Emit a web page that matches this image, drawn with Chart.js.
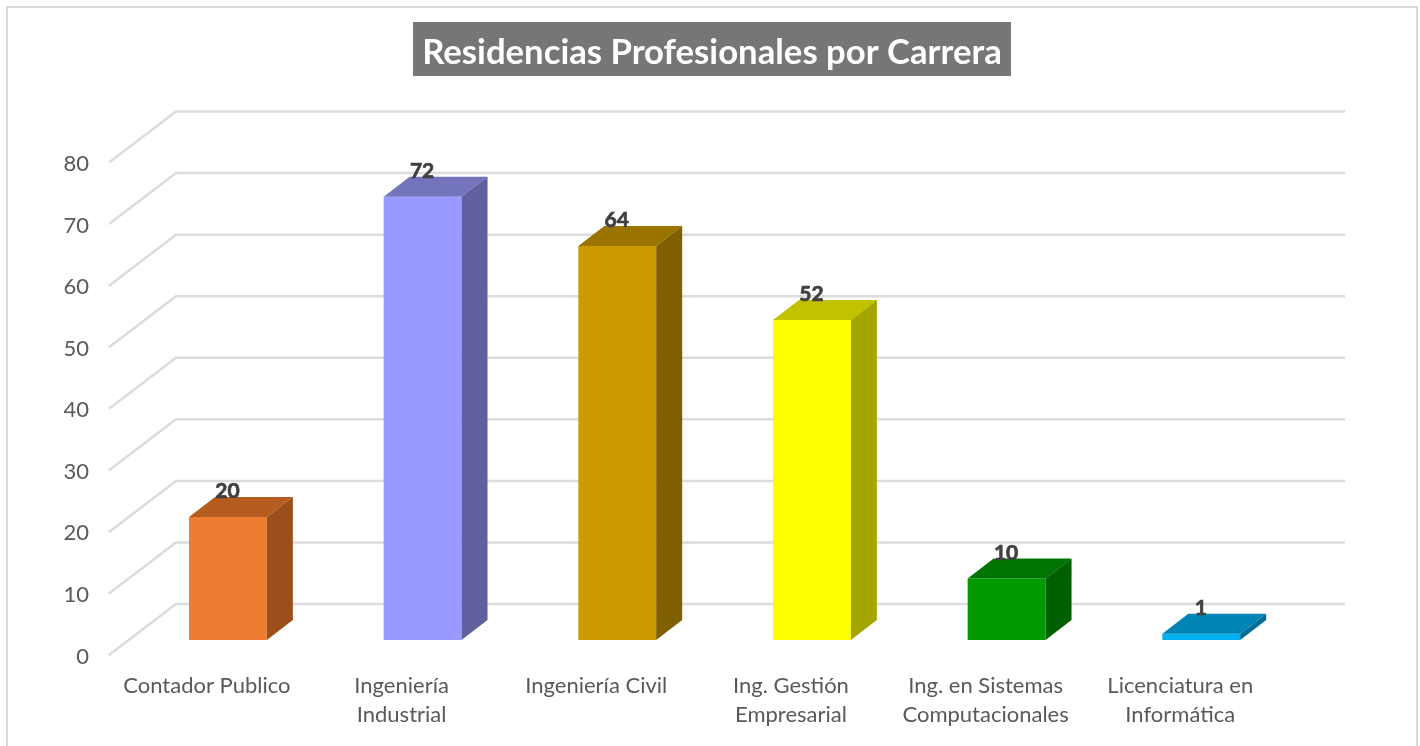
<!DOCTYPE html>
<html><head><meta charset="utf-8">
<style>html,body{margin:0;padding:0;background:#fff}#w{width:1420px;height:746px;position:relative;overflow:hidden}</style>
<script src="https://cdn.jsdelivr.net/npm/chart.js@4"></script>
</head><body><div id="w"><canvas id="c" width="1420" height="746"></canvas></div>
<script>
const titleText = 'Residencias Profesionales por Carrera';
const categories = ['Contador Publico',['Ingeniería','Industrial'],'Ingeniería Civil',['Ing. Gestión','Empresarial'],['Ing. en Sistemas','Computacionales'],['Licenciatura en','Informática']];
const values = [20,72,64,52,10,1];
const yTicks = [0,10,20,30,40,50,60,70,80];
const frontColors = ['#ed7d31','#9999ff','#cc9900','#ffff00','#009900','#00b0f0'];
const topColors = ['#b55c20','#7474bd','#9b7400','#c2c200','#007400','#0084b5'];
const sideColors = ['#9a4f1c','#60609f','#806000','#a5a500','#006000','#006d98'];
const FONT = 'Lato, Carlito, sans-serif';
const depth = {x:26, y:-20};

const scene = {
  id:'scene',
  afterLayout(chart){ const t=chart.titleBlock; if(t){t.left=4;t.right=1420;} },
  beforeDraw(chart){
    const c=chart.ctx; c.save();
    c.fillStyle='#fff'; c.fillRect(0,0,1420,746);
    c.strokeStyle='#d9d9d9'; c.lineWidth=2;
    c.beginPath(); c.moveTo(7,750); c.lineTo(7,7); c.lineTo(1417,7); c.lineTo(1417,750); c.stroke();
    c.fillStyle='#767676'; c.fillRect(413,22,598,54);
    c.restore();
  },
  beforeDatasetsDraw(chart){
    const c=chart.ctx, y=chart.scales.y; c.save();
    c.strokeStyle='#dcdcdc'; c.lineWidth=2.5;
    yTicks.forEach(v=>{
      const p=y.getPixelForValue(v);
      c.beginPath(); c.moveTo(109,p+15); c.lineTo(176,p-36); c.lineTo(1345,p-36); c.stroke();
    });
    c.restore();
  },
  afterDatasetsDraw(chart){
    const c=chart.ctx, meta=chart.getDatasetMeta(0); c.save();
    meta.data.forEach((b,i)=>{
      const l=b.x-b.width/2, r=b.x+b.width/2, t=b.y, bt=b.base;
      c.fillStyle=topColors[i];
      c.beginPath(); c.moveTo(l,t); c.lineTo(l+depth.x,t+depth.y); c.lineTo(r+depth.x,t+depth.y); c.lineTo(r,t); c.closePath(); c.fill();
      c.fillStyle=sideColors[i];
      c.beginPath(); c.moveTo(r,t); c.lineTo(r+depth.x,t+depth.y); c.lineTo(r+depth.x,bt+depth.y); c.lineTo(r,bt); c.closePath(); c.fill();
    });
    c.fillStyle='#404040'; c.strokeStyle='#404040'; c.lineWidth=0.7; c.font='bold 21px '+FONT; c.textAlign='center'; c.textBaseline='middle';
    meta.data.forEach((b,i)=>{ const s=String(values[i]); c.fillText(s, b.x-0.5, b.y-25.5); c.strokeText(s, b.x-0.5, b.y-25.5); });
    c.restore();
  }
};

new Chart(document.getElementById('c'),{
  type:'bar',
  data:{labels:categories,datasets:[{data:values,backgroundColor:frontColors,borderWidth:0,barPercentage:0.4,categoryPercentage:1}]},
  options:{
    responsive:false,animation:false,
    layout:{padding:{left:0,right:121.4,top:0,bottom:0}},
    plugins:{
      legend:{display:false},tooltip:{enabled:false},
      title:{display:true,text:titleText,color:'#ffffff',font:{family:FONT,size:34.7,weight:'bold',lineHeight:1.2},padding:{top:32.2,bottom:73.7}}
    },
    scales:{
      x:{grid:{display:false,drawTicks:false},border:{display:false},
         afterFit(s){s.height=106;},
         ticks:{color:'#595959',font:{family:FONT,size:22,lineHeight:1.3},padding:32,labelOffset:-21,maxRotation:0,minRotation:0,autoSkip:false}},
      y:{min:0,max:80,grid:{display:false,drawTicks:false},border:{display:false},
         afterFit(s){s.width=130.6;},
         afterBuildTicks(s){s.ticks=yTicks.map(v=>({value:v}));},
         ticks:{color:'#595959',font:{family:FONT,size:22},padding:41.6,labelOffset:16.5}}
    }
  },
  plugins:[scene]
});
</script></body></html>
